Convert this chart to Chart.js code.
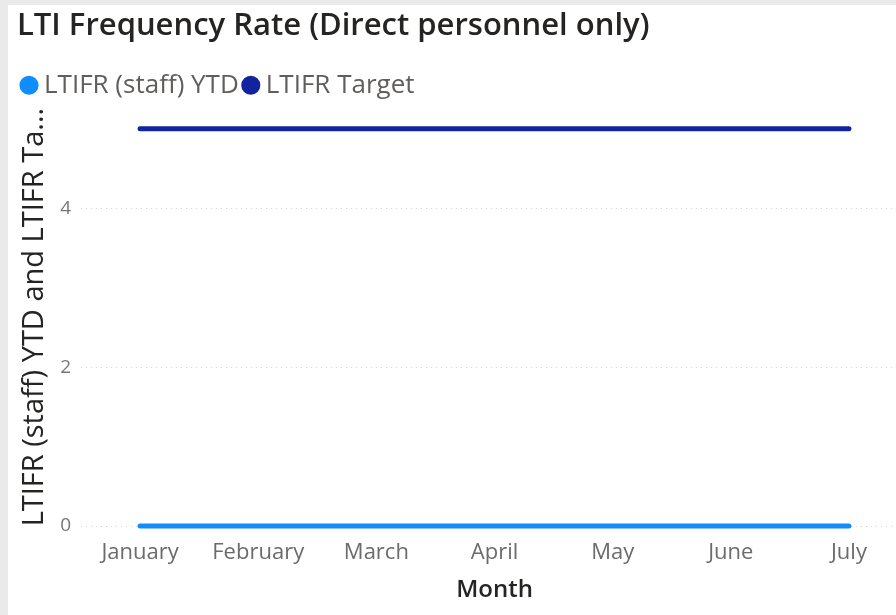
<!DOCTYPE html>
<html>
<head>
<meta charset="utf-8">
<script src="https://cdn.jsdelivr.net/npm/chart.js@4.4.1/dist/chart.umd.min.js"></script>
<style>
    html, body { margin: 0; padding: 0; background: #eaeaea; overflow: hidden; }
    .panel { position: absolute; left: 8px; top: 5px; width: 888px; height: 610px; background: #fff; overflow: hidden; }
    #chart-lti { position: absolute; left: 0; top: 0; }
</style>
</head>
<body>
<div class="panel">
    <canvas id="chart-lti" width="920" height="610"></canvas>
</div>
<script>
// data
const arrMonths = ['January', 'February', 'March', 'April', 'May', 'June', 'July'];
const arrLtifrYtd = [0, 0, 0, 0, 0, 0, 0];
const arrLtifrTarget = [5, 5, 5, 5, 5, 5, 5];
const arrYTicks = [0, 2, 4];

const fontName = "'Open Sans', 'Noto Sans', sans-serif";

const ctx = document.getElementById('chart-lti');
const chartLti = new Chart(ctx, {
    type: 'line',
    data: {
        labels: arrMonths,
        datasets: [{
            label: 'LTIFR (staff) YTD',
            data: arrLtifrYtd,
            borderColor: '#118DFF',
            backgroundColor: '#118DFF',
            borderWidth: 5,
            borderCapStyle: 'round',
            pointRadius: 0,
            clip: false
        }, {
            label: 'LTIFR Target',
            data: arrLtifrTarget,
            borderColor: '#12239E',
            backgroundColor: '#12239E',
            borderWidth: 5,
            borderCapStyle: 'round',
            pointRadius: 0,
            clip: false
        }]
    },
    options: {
        responsive: false,
        animation: false,
        layout: {
            padding: { left: 9, right: 20, top: 0, bottom: 0 }
        },
        plugins: {
            title: {
                display: true,
                text: 'LTI Frequency Rate (Direct personnel only)',
                align: 'start',
                color: '#252423',
                font: { family: fontName, size: 31, weight: '600' },
                padding: { top: 3, bottom: 17 }
            },
            legend: {
                display: true,
                align: 'start',
                labels: {
                    usePointStyle: true,
                    pointStyle: 'circle',
                    boxWidth: 4,
                    boxHeight: 10,
                    padding: 10,
                    color: '#605E5C',
                    font: { family: fontName, size: 26 }
                }
            },
            tooltip: { enabled: false }
        },
        scales: {
            x: {
                offset: true,
                grid: { display: false },
                border: { display: false },
                ticks: {
                    color: '#6b6b6b',
                    padding: 6,
                    maxRotation: 0,
                    autoSkip: false,
                    font: { family: fontName, size: 22 }
                },
                title: {
                    display: true,
                    text: 'Month',
                    color: '#252423',
                    padding: { top: 4, bottom: 10 },
                    font: { family: fontName, size: 24, weight: '600' }
                },
                afterFit: function (scale) {
                    scale.height = 89;
                }
            },
            y: {
                min: 0,
                max: 5.26,
                afterBuildTicks: function (scale) {
                    scale.ticks = arrYTicks.map(v => ({ value: v }));
                },
                grid: {
                    color: '#d4d4d4',
                    lineWidth: 1,
                    drawTicks: false
                },
                border: { display: false, dash: [1, 4] },
                ticks: {
                    color: '#777',
                    padding: 10,
                    font: { family: fontName, size: 19 }
                },
                title: {
                    display: true,
                    text: 'LTIFR (staff) YTD and LTIFR Ta...',
                    color: '#252423',
                    padding: { top: 0, bottom: 0 },
                    font: { family: fontName, size: 29, weight: '500' }
                },
                afterFit: function (scale) {
                    scale.width = 64;
                }
            }
        }
    }
});
</script>
</body>
</html>
